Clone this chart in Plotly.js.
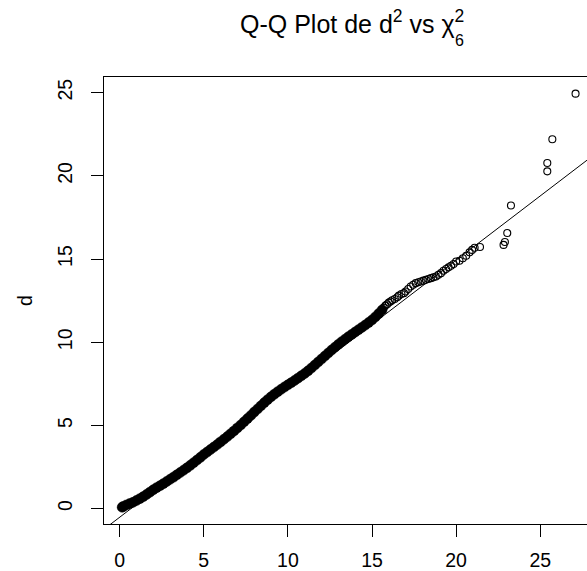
<!DOCTYPE html>
<html>
<head>
<meta charset="utf-8">
<script src="https://cdn.plot.ly/plotly-3.0.1.min.js"></script>
<style>
  html, body { margin: 0; padding: 0; background: #ffffff; overflow: hidden; }
  #chart { width: 587px; height: 571px; }
</style>
</head>
<body>
<div id="chart"></div>
<script>
// ---- Data ----
// Dense part of the Q-Q cloud (theoretical chi-square quantile, sorted d)
const denseX = [0.15,0.2,0.4,0.6,0.8,1.0,1.2,1.4,1.6,1.8,2.0,2.2,2.4,2.6,2.8,3.0,3.2,3.4,3.6,3.8,4.0,4.2,4.4,4.6,4.8,5.0,5.2,5.4,5.6,5.8,6.0,6.2,6.4,6.6,6.8,7.0,7.2,7.4,7.6,7.8,8.0,8.2,8.4,8.6,8.8,9.0,9.2,9.4,9.6,9.8,10.0,10.2,10.4,10.6,10.8,11.0,11.2,11.4,11.6,11.8,12.0,12.2,12.4,12.6,12.8,13.0,13.2,13.4,13.6,13.8,14.0,14.2,14.4,14.6,14.8,15.0,15.2,15.4,15.6];
const denseY = [0.08,0.12,0.22,0.30,0.38,0.49,0.60,0.72,0.85,0.99,1.13,1.26,1.38,1.50,1.63,1.76,1.89,2.03,2.17,2.31,2.45,2.60,2.76,2.92,3.08,3.25,3.40,3.55,3.70,3.85,4.01,4.17,4.33,4.50,4.67,4.85,5.03,5.22,5.41,5.60,5.80,5.99,6.18,6.37,6.55,6.72,6.88,7.03,7.17,7.31,7.44,7.57,7.70,7.84,7.98,8.12,8.28,8.45,8.63,8.81,8.99,9.17,9.35,9.53,9.70,9.87,10.03,10.18,10.33,10.47,10.61,10.75,10.89,11.03,11.18,11.34,11.52,11.72,11.94];
// Sparser upper part and outliers
const tailX = [15.7,15.8,15.9,16.0,16.1,16.2,16.35,16.5,16.6,16.75,16.9,17.0,17.15,17.3,17.45,17.6,17.75,17.9,18.05,18.2,18.35,18.5,18.65,18.8,18.95,19.1,19.25,19.4,19.55,19.7,19.85,20.0,20.2,20.4,20.6,20.8,20.95,21.1,21.42,22.82,22.9,23.04,23.26,25.42,25.42,25.72,27.1];
const tailY = [12.08,12.2,12.28,12.38,12.45,12.52,12.6,12.7,12.8,12.9,12.95,13.05,13.2,13.35,13.45,13.55,13.6,13.65,13.7,13.75,13.8,13.85,13.9,13.95,14.05,14.15,14.3,14.4,14.5,14.6,14.7,14.85,14.9,15.05,15.2,15.4,15.55,15.68,15.72,15.85,16.02,16.56,18.22,20.27,20.77,22.2,24.94];
// Reference line (intercept, slope)
const lineIntercept = -0.52;
const lineSlope = 0.7725;
// Axis ticks
const xTicks = [0,5,10,15,20,25];
const yTicks = [0,5,10,15,20,25];
const xRange = [-0.93, 27.78];
const yRange = [-0.925, 25.94];

const titleText = "Q-Q Plot de d<sup>2</sup> vs χ<sup>2</sup>";
const titleSub = "6";
const yLabel = "d";

const FONT = "Liberation Sans, Arial, sans-serif";

const lineTrace = {
  x: [xRange[0], xRange[1]],
  y: [lineIntercept + lineSlope * xRange[0], lineIntercept + lineSlope * xRange[1]],
  mode: "lines",
  line: { color: "#000000", width: 1 },
  hoverinfo: "skip",
  showlegend: false
};
const denseTrace = {
  x: denseX, y: denseY,
  mode: "markers",
  marker: { symbol: "circle", size: 10, color: "#000000", line: { color: "#000000", width: 0.5 } },
  showlegend: false
};
const tailTrace = {
  x: tailX, y: tailY,
  mode: "markers",
  marker: { symbol: "circle-open", size: 7, color: "#000000", line: { color: "#000000", width: 1.1 } },
  showlegend: false
};

const layout = {
  width: 587, height: 571,
  margin: { l: 104, r: 0, t: 77, b: 47, pad: 0 },
  paper_bgcolor: "#ffffff",
  plot_bgcolor: "#ffffff",
  font: { family: FONT, color: "#000000", size: 19.5 },
  title: {
    text: titleText,
    font: { family: FONT, size: 25, color: "#000000" },
    xref: "container", yref: "container",
    x: 240 / 587, xanchor: "left",
    y: 1 - 24 / 571, yanchor: "middle"
  },
  xaxis: {
    range: xRange,
    tickmode: "array", tickvals: xTicks, ticktext: xTicks.map(String),
    showgrid: false, zeroline: false,
    showline: true, linecolor: "#000000", linewidth: 1, mirror: true,
    ticks: "outside", ticklen: 12, tickwidth: 1, tickcolor: "#000000",
    ticklabelstandoff: 7,
    tickfont: { family: FONT, size: 19.5, color: "#000000" }
  },
  yaxis: {
    range: yRange,
    tickmode: "array", tickvals: yTicks, ticktext: yTicks.map(String),
    tickangle: -90,
    showgrid: false, zeroline: false,
    showline: true, linecolor: "#000000", linewidth: 1, mirror: false,
    ticks: "outside", ticklen: 12, tickwidth: 1, tickcolor: "#000000",
    ticklabelstandoff: 11,
    tickfont: { family: FONT, size: 19.5, color: "#000000" },
    title: { text: yLabel, font: { family: FONT, size: 19.5, color: "#000000" }, standoff: 16 }
  },
  annotations: [{
    text: titleSub,
    xref: "paper", yref: "paper",
    x: (459 - 104) / 483, y: (571 - 47 - 40) / (571 - 77 - 47),
    xanchor: "center", yanchor: "middle",
    showarrow: false,
    font: { family: FONT, size: 16, color: "#000000" }
  }],
  showlegend: false
};

Plotly.newPlot("chart", [lineTrace, denseTrace, tailTrace], layout, { staticPlot: true, displayModeBar: false });
</script>
</body>
</html>
